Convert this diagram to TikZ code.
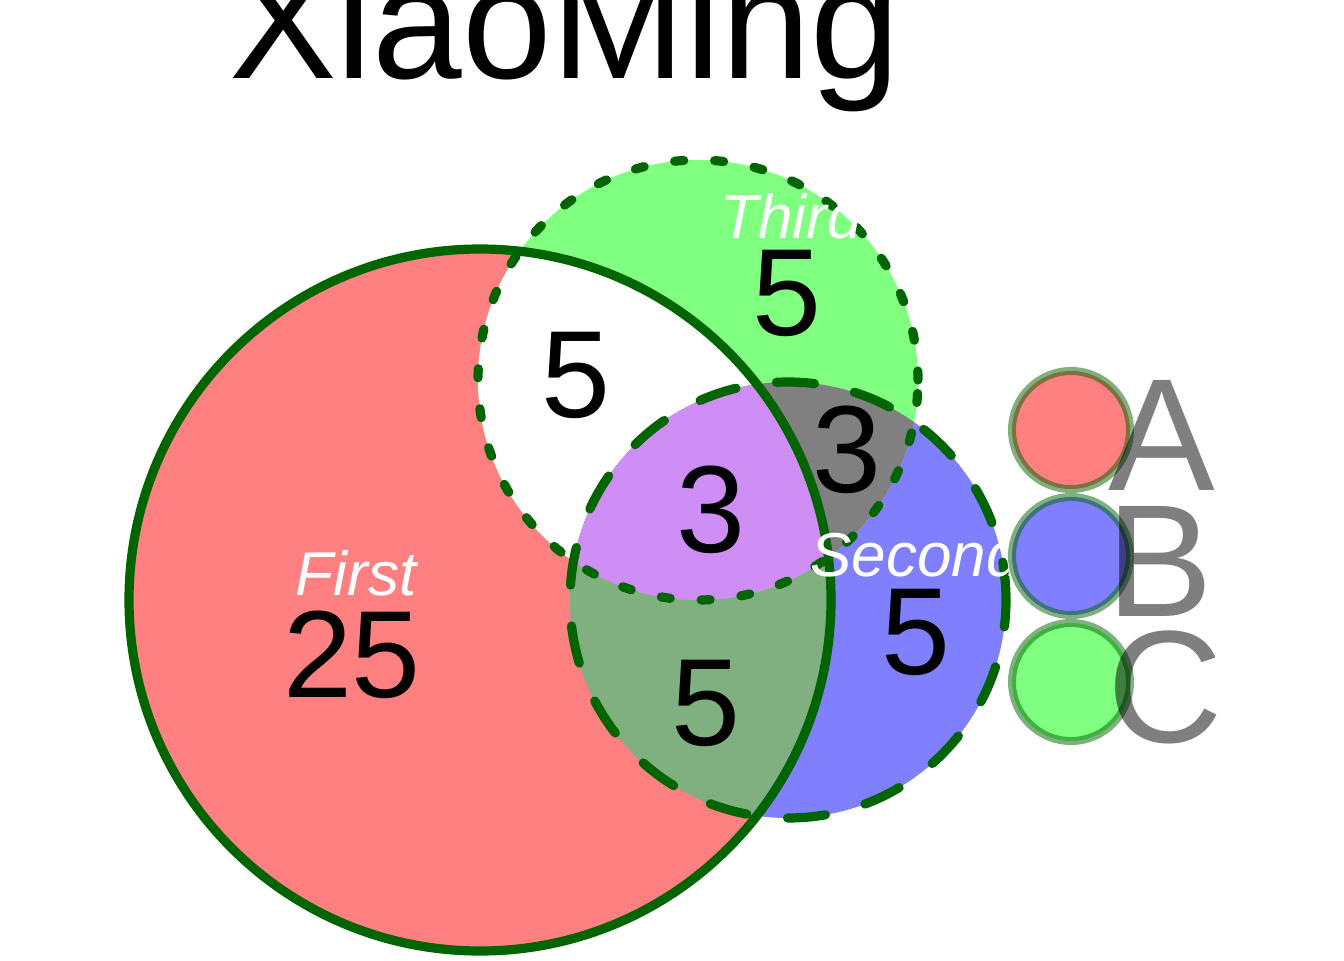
\documentclass[tikz,border=0pt]{standalone}
\usepackage{fontspec}
\setmainfont{Liberation Sans}
\usepackage{xcolor}
\usepackage{tikz}
\usetikzlibrary{positioning}

\definecolor{onlyFirst}{RGB}{255,128,128}
\definecolor{onlySecond}{RGB}{128,128,255}
\definecolor{onlyThird}{RGB}{128,255,128}
\definecolor{firstSecond}{RGB}{128,176,128}
\definecolor{secondThird}{RGB}{128,128,128}
\definecolor{allThree}{RGB}{206,142,245}
\definecolor{rim}{RGB}{0,100,0}

\begin{document}
\begin{tikzpicture}[x=0.5pt, y=-0.5pt,
    rimline/.style={draw=rim, line width=4.6pt, line cap=round},
    num/.style={font=\fontsize{62}{62}\selectfont, inner sep=0pt, anchor=base},
    setname/.style={font=\fontsize{31}{31}\selectfont\itshape, text=white, inner sep=0pt},
    keydot/.style={circle, draw=rim, draw opacity=0.5, line width=4pt, minimum size=59pt, inner sep=0pt},
    keyletter/.style={font=\fontsize{80}{80}\selectfont, text=black, text opacity=0.5, inner sep=0pt, anchor=base west}]
  \useasboundingbox (0,0) rectangle (1344,960);

  \coordinate (cFirst) at (480,600);
  \coordinate (cSecond) at (788,600);
  \coordinate (cThird) at (698,380);

  % plain areas
  \fill[onlyFirst] (cFirst) circle[radius=175.5pt];
  \fill[onlySecond] (cSecond) circle[radius=109pt];
  \fill[onlyThird] (cThird) circle[radius=110pt];

  % overlaps
  \begin{scope}
    \clip (cFirst) circle[radius=175.5pt];
    \fill[firstSecond] (cSecond) circle[radius=109pt];
    \fill[white] (cThird) circle[radius=110pt];
  \end{scope}
  \begin{scope}
    \clip (cSecond) circle[radius=109pt];
    \fill[secondThird] (cThird) circle[radius=110pt];
  \end{scope}
  \begin{scope}
    \clip (cFirst) circle[radius=175.5pt];
    \clip (cSecond) circle[radius=109pt];
    \fill[allThree] (cThird) circle[radius=110pt];
  \end{scope}

  % outlines
  \draw[rimline] (cFirst) circle[radius=175.5pt];
  \draw[rimline, dash pattern=on 19pt off 20.5pt] (cSecond) circle[radius=109pt];
  \draw[rimline, dash pattern=on 4.5pt off 15.5pt] (cThird) circle[radius=110pt];

  % title
  \node[font=\fontsize{80.5}{80.5}\selectfont, inner sep=0pt, anchor=base] (title) at (565,78) {XiaoMing};

  % set names
  \node[setname, anchor=base] (nameFirst) at (356,595) {First};
  \node[setname, anchor=base west] (nameSecond) at (810,576) {Second};
  \node[setname, anchor=base west] (nameThird) at (720,238) {Third};

  % counts
  \node[num] (nFirst) at (352,697) {25};
  \node[num] (nThird) at (787,335) {5};
  \node[num] (nFirstThird) at (576,417) {5};
  \node[num] (nSecondThird) at (847,492) {3};
  \node[num] (nAll) at (711,552) {3};
  \node[num] (nSecond) at (916,674) {5};
  \node[num] (nFirstSecond) at (706,745) {5};

  % key
  \node[keydot, fill=onlyFirst] (keyA) at (1071,430) {};
  \node[keydot, fill=onlySecond] (keyB) at (1071,556) {};
  \node[keydot, fill=onlyThird] (keyC) at (1071,682) {};
  \node[keyletter] (letA) at (1108,490) {A};
  \node[keyletter] (letB) at (1106,616) {B};
  \node[keyletter] (letC) at (1107,742) {C};
\end{tikzpicture}
\end{document}
